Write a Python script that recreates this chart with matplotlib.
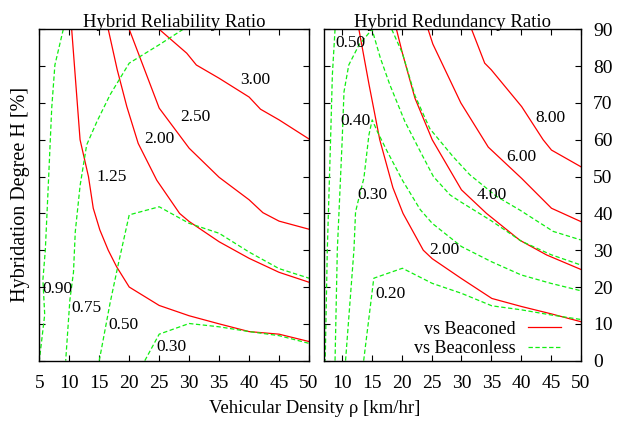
import matplotlib
matplotlib.use("Agg")
import matplotlib.pyplot as plt

plt.rcParams["font.family"] = ["Liberation Serif", "DejaVu Serif"]
plt.rcParams["font.size"] = 14

RED = "#ff0000"
GREEN = "#11ee11"

# ---- left panel: Hybrid Reliability Ratio ----
# beaconed contours (red), each list of (x, y) points
rel_red = {
    "1.25": [(10.4, 90), (11.8, 60), (13.2, 50), (14.0, 41.4), (15.1, 35.5), (16.5, 30), (17.9, 25.5),
             (20, 20), (25, 15), (30, 12.2), (35, 10), (40, 7.9), (45, 7.2), (50, 5.2)],
    "2.00": [(16.5, 90), (18, 79), (19.6, 69), (21.5, 59), (24.6, 49), (28.4, 40), (30, 37.8),
             (35, 32.3), (40, 27.8), (45, 24), (50, 21.3)],
    "2.50": [(20, 90), (25, 68.6), (30, 57.7), (35, 49.8), (40, 43.7), (42.3, 40.2), (45, 37.9), (50, 35.7)],
    "3.00": [(25, 90), (29.6, 83.5), (31.2, 80.3), (35, 76.7), (40, 71.6), (41.9, 68.3), (45, 65.4), (50, 60.2)],
}
# beaconless contours (green)
rel_green = {
    "0.90": [(9, 90), (7.6, 80.3), (7.07, 68.6), (6.5, 47.7), (6.0, 30), (5.6, 22), (5.9, 12.5), (5.0, 0)],
    "0.75": [(29, 90), (25, 85.8), (20, 80.8), (16.8, 72.2), (14.6, 64.9), (12.9, 58.6), (11.8, 47.5),
             (11.0, 35), (10.7, 24), (10.1, 16.5), (9.4, 0)],
    "0.50": [(15, 0), (16.8, 15.6), (18.2, 26.4), (20, 39.6), (25, 41.8), (30, 37.3), (35, 34.6),
             (40, 29.5), (45, 25), (50, 22.4)],
    "0.30": [(22.6, 0), (25, 7.2), (30, 10.1), (35, 9.2), (40, 7.9), (45, 6.8), (50, 4.7)],
}
rel_labels = [("3.00", 41, 76.2), ("2.50", 31, 66.3), ("2.00", 25, 60.1), ("1.25", 17.1, 50),
              ("0.90", 8.0, 19.4), ("0.75", 12.9, 14.4), ("0.50", 19, 9.7), ("0.30", 27.1, 3.8)]

# ---- right panel: Hybrid Redundancy Ratio ----
red_red = {
    "2.00": [(12.8, 90), (14.5, 75), (16.3, 60), (18.5, 47), (20.2, 40), (23.6, 30), (25.1, 27.7),
             (30, 22.3), (35.1, 16.9), (40.1, 14.7), (45.1, 12.7), (50, 10.6)],
    "4.00": [(19.1, 90), (20.1, 83.5), (22.2, 71.3), (25.1, 60), (30, 46.4), (34.2, 40), (39.8, 32.7),
             (44.3, 28.7), (50, 24.8)],
    "6.00": [(24.4, 90), (25.2, 86), (29.9, 70), (34.5, 58), (40.1, 49.5), (45.1, 41.4), (50, 37.8)],
    "8.00": [(31.7, 90), (33.9, 80.8), (35.0, 79), (40.1, 69), (43.7, 60), (45.1, 57.2), (50, 52.7)],
}
red_green = {
    "0.50": [(8.8, 90), (8.35, 77.6), (8.05, 60), (7.5, 30), (7.15, 0)],
    "0.40": [(8.8, 0), (9.18, 30), (10, 60), (10.3, 73), (11.1, 80.3), (12.8, 85.7), (15.0, 90),
             (16.4, 82.2), (18.0, 74.9), (20.5, 65), (23.1, 56.8), (25.3, 50), (28.1, 45), (30, 43),
             (35, 38), (40, 32.5), (45, 28.8), (50, 26)],
    "0.30": [(10.56, 0), (11.97, 30.1), (12.24, 40.4), (12.8, 44.2), (13.64, 49.6), (14.48, 61.3),
             (15.03, 65.4), (15.9, 62.2), (17.5, 57), (20.1, 49), (23.1, 41), (25.1, 37.3), (30, 31),
             (35, 26.9), (40, 23.3), (45, 21), (50, 19)],
    "0.20": [(13.6, 0), (15.3, 22.4), (20.1, 25.1), (25.1, 21), (30, 18.3), (35.1, 14.9), (40.1, 13.8),
             (45.1, 12.4), (50, 11.2)],
    "upper": [(18.3, 90), (20.1, 83.5), (22.2, 72), (24.7, 63), (28.6, 55.4), (31.4, 50.5), (35.9, 44.6),
              (39.8, 40.9), (45.4, 35.1), (50, 32.8)],
}
red_labels = [("0.50", 11.3, 86.4), ("0.40", 12.2, 65.1), ("0.30", 15.1, 45), ("0.20", 18.1, 18),
              ("2.00", 27.2, 30), ("4.00", 35.1, 45), ("6.00", 40.1, 55.2), ("8.00", 45, 66)]

fig = plt.figure(figsize=(6.29, 4.22), dpi=100)
ax1 = fig.add_axes([0.0625, 0.1453, 0.4288, 0.7853])
ax2 = fig.add_axes([0.5156, 0.1453, 0.4076, 0.7853])


def draw(ax, reds, greens, labels):
    for pts in reds.values():
        ax.plot([p[0] for p in pts], [p[1] for p in pts], color=RED, lw=0.9)
    for pts in greens.values():
        ax.plot([p[0] for p in pts], [p[1] for p in pts], color=GREEN, lw=0.9, dashes=(3.5, 2))
    for txt, x, y in labels:
        ax.text(x, y, txt, ha="center", va="center", fontsize=12.5)
    ax.set_ylim(0, 90)
    ax.set_yticks(range(0, 91, 10))
    ax.tick_params(direction="in", top=True, right=True, length=4, width=0.8,
                   labelsize=14, pad=10)
    for s in ax.spines.values():
        s.set_linewidth(1.0)


draw(ax1, rel_red, rel_green, rel_labels)
ax1.set_xlim(5, 50)
ax1.set_xticks(range(5, 51, 5))
ax1.tick_params(labelleft=False)
ax1.set_title("Hybrid Reliability Ratio", fontsize=13.5, pad=2)

draw(ax2, red_red, red_green, red_labels)
ax2.set_xlim(7, 50)
ax2.set_xticks(range(10, 51, 5))
ax2.tick_params(labelleft=False, labelright=True)
ax2.tick_params(axis="y", pad=9)
ax2.set_title("Hybrid Redundancy Ratio", fontsize=13.5, pad=2)

# legend handles
ax2.plot([], [], color=RED, lw=0.9, label="vs Beaconed")
ax2.plot([], [], color=GREEN, lw=0.9, dashes=(3.5, 2), label="vs Beaconless")
ax2.legend(loc="lower right", frameon=False, markerfirst=False, fontsize=13,
           handlelength=1.8, handletextpad=0.7, borderaxespad=0.0, labelspacing=0.15,
           bbox_to_anchor=(0.95, -0.012))

fig.text(0.5, 0.032, "Vehicular Density ρ [km/hr]", ha="center", va="center", fontsize=13.5)
fig.text(0.032, 0.54, "Hybridation Degree H [%]", ha="center", va="center", rotation=90, fontsize=14.5)

fig.savefig("out.png", dpi=100)
